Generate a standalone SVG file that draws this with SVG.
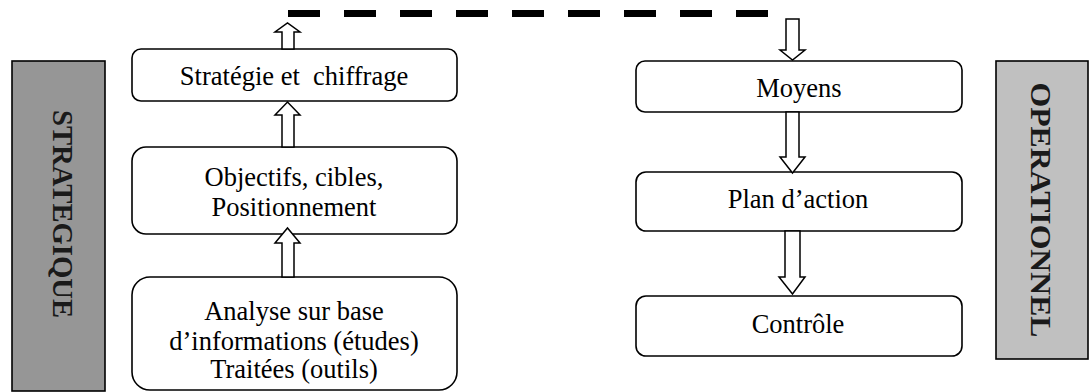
<svg xmlns="http://www.w3.org/2000/svg" width="1089" height="392" viewBox="0 0 1089 392">
  <defs>
    <style>
      .box { fill: #ffffff; stroke: #000000; stroke-width: 1.6; }
      .band { stroke: #000000; stroke-width: 1.6; }
      .lbl { font-size: 26.5px; fill: #000000; text-anchor: middle; }
      .side { font-size: 30px; font-weight: bold; fill: #1a1a1a; text-anchor: middle; }
      .arrow { fill: #ffffff; stroke: #000000; stroke-width: 1.5; stroke-linejoin: miter; }
      .link { fill: none; stroke: #000000; stroke-width: 7; stroke-dasharray: 32 24; }
    </style>
  </defs>
  <rect width="1089" height="392" fill="#ffffff"/>

  <g font-family="Liberation Serif, serif">
    <!-- side bands -->
    <g id="band-strategique">
      <rect class="band" x="12" y="61" width="93" height="330" fill="#969696"/>
      <text class="side" transform="translate(53,214) rotate(90)" textLength="208" lengthAdjust="spacingAndGlyphs">STRATEGIQUE</text>
    </g>
    <g id="band-operationnel">
      <rect class="band" x="996" y="61" width="92" height="298" fill="#c0c0c0"/>
      <text class="side" transform="translate(1031,210) rotate(90)" textLength="255" lengthAdjust="spacingAndGlyphs">OPERATIONNEL</text>
    </g>

    <!-- strategic column -->
    <g id="node-strategie">
      <rect class="box" x="132" y="49" width="325" height="52" rx="9"/>
      <text class="lbl" x="294" y="85" xml:space="preserve">Stratégie et  chiffrage</text>
    </g>
    <g id="node-objectifs">
      <rect class="box" x="132" y="147" width="325" height="87" rx="14"/>
      <text class="lbl" x="294" y="186">Objectifs, cibles,</text>
      <text class="lbl" x="294" y="216">Positionnement</text>
    </g>
    <g id="node-analyse">
      <rect class="box" x="132" y="277" width="325" height="113" rx="18"/>
      <text class="lbl" x="294" y="320">Analyse sur base</text>
      <text class="lbl" x="294" y="350">d’informations (études)</text>
      <text class="lbl" x="294" y="378">Traitées (outils)</text>
    </g>

    <!-- operational column -->
    <g id="node-moyens">
      <rect class="box" x="636" y="61" width="326" height="51" rx="9"/>
      <text class="lbl" x="799" y="97">Moyens</text>
    </g>
    <g id="node-plan">
      <rect class="box" x="636" y="172" width="326" height="59" rx="10"/>
      <text class="lbl" x="798" y="208">Plan d’action</text>
    </g>
    <g id="node-controle">
      <rect class="box" x="636" y="296" width="326" height="60" rx="10"/>
      <text class="lbl" x="798" y="333">Contrôle</text>
    </g>
  </g>

  <!-- connectors -->
  <g id="connectors">
    <!-- hollow up arrows -->
    <polygon class="arrow" points="282,49 282,32 275,32 287.5,23 300,32 294,32 294,49"/>
    <polygon class="arrow" points="282,147 282,115 275,115 287.5,102 300,115 294,115 294,147"/>
    <polygon class="arrow" points="282,277 282,243 275,243 287.5,228 300,243 294,243 294,277"/>
    <!-- dashed link across the top -->
    <line class="link" x1="288" y1="13.5" x2="768" y2="13.5"/>
    <!-- hollow down arrows -->
    <polygon class="arrow" points="786,19 799,19 799,50 805,50 792.5,60 780,50 786,50"/>
    <polygon class="arrow" points="786,112 799,112 799,157 805,157 792.5,173 780,157 786,157"/>
    <polygon class="arrow" points="785,231 800,231 800,277 805,277 792.5,294 779,277 785,277"/>
  </g>
</svg>
